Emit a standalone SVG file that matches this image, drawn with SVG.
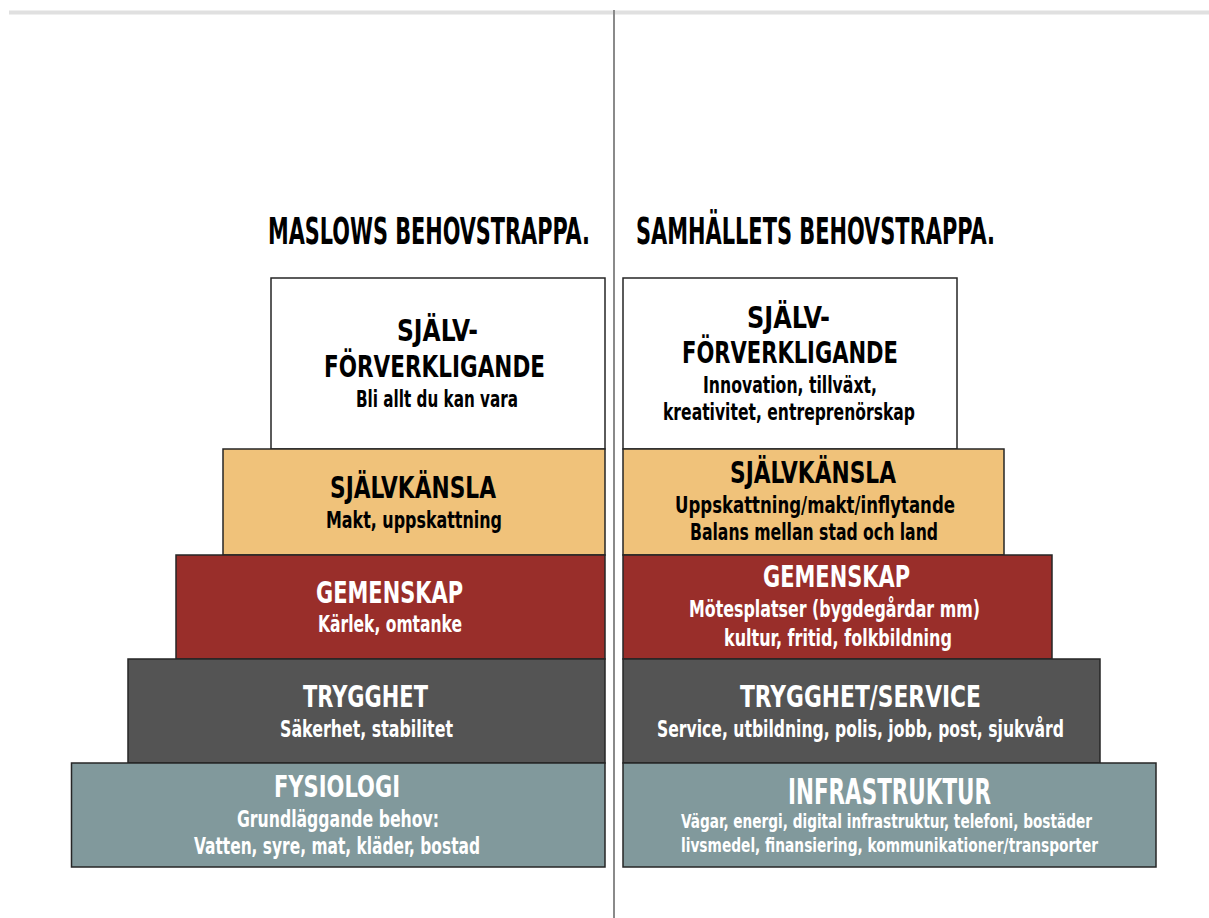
<svg xmlns="http://www.w3.org/2000/svg" width="1209" height="918" viewBox="0 0 1209 918">
<style>
text { font-family: "Liberation Sans Narrow", "DejaVu Sans Condensed", "Roboto Condensed", sans-serif; font-weight: bold; }
.hd { font-size: 38px; fill: #000; }
.tt { font-size: 31px; }
.sb { font-size: 23px; }
.sm { font-size: 20px; }
.dk { fill: #000; }
.lt { fill: #fff; }
.box { stroke: #262626; stroke-width: 1.5; }
.w { fill: #ffffff; }
.o { fill: #f0c27a; }
.r { fill: #992e2a; }
.g { fill: #545454; }
.t { fill: #81999c; }
</style>
<rect x="0" y="0" width="1209" height="918" fill="#ffffff"/>
<line x1="9" y1="12.5" x2="1209" y2="12.5" stroke="#e0e0e0" stroke-width="4"/>
<line x1="614" y1="10" x2="614" y2="918" stroke="#8a8a8a" stroke-width="2"/>

<g id="header-left"><g transform="scale(0.7 1)"><text class="hd" x="382.86" y="244" textLength="460" lengthAdjust="spacingAndGlyphs">MASLOWS BEHOVSTRAPPA.</text></g></g>
<g id="header-right"><g transform="scale(0.7 1)"><text class="hd" x="908.57" y="244" textLength="512.86" lengthAdjust="spacingAndGlyphs">SAMHÄLLETS BEHOVSTRAPPA.</text></g></g>

<g id="left-sjalvforverkligande">
<rect class="box w" x="271" y="278" width="334" height="171"/>
<g transform="scale(0.7 1)">
<text class="tt dk" x="567.14" y="341" textLength="115.71" lengthAdjust="spacingAndGlyphs">SJÄLV-</text>
<text class="tt dk" x="462.86" y="377" textLength="315.71" lengthAdjust="spacingAndGlyphs">FÖRVERKLIGANDE</text>
<text class="sb dk" x="508.57" y="407" textLength="231.43" lengthAdjust="spacingAndGlyphs">Bli allt du kan vara</text>
</g>
</g>
<g id="left-sjalvkansla">
<rect class="box o" x="223" y="449" width="382" height="106"/>
<g transform="scale(0.7 1)">
<text class="tt dk" x="471.43" y="498" textLength="237.14" lengthAdjust="spacingAndGlyphs">SJÄLVKÄNSLA</text>
<text class="sb dk" x="465.71" y="528" textLength="251.43" lengthAdjust="spacingAndGlyphs">Makt, uppskattning</text>
</g>
</g>
<g id="left-gemenskap">
<rect class="box r" x="176" y="555" width="429" height="104"/>
<g transform="scale(0.7 1)">
<text class="tt lt" x="451.43" y="603" textLength="210" lengthAdjust="spacingAndGlyphs">GEMENSKAP</text>
<text class="sb lt" x="454.29" y="632" textLength="205.71" lengthAdjust="spacingAndGlyphs">Kärlek, omtanke</text>
</g>
</g>
<g id="left-trygghet">
<rect class="box g" x="128" y="659" width="477" height="104"/>
<g transform="scale(0.7 1)">
<text class="tt lt" x="432.86" y="707" textLength="178.57" lengthAdjust="spacingAndGlyphs">TRYGGHET</text>
<text class="sb lt" x="400" y="737" textLength="247.14" lengthAdjust="spacingAndGlyphs">Säkerhet, stabilitet</text>
</g>
</g>
<g id="left-fysiologi">
<rect class="box t" x="71.5" y="763" width="533.5" height="104"/>
<g transform="scale(0.7 1)">
<text class="tt lt" x="391.43" y="797" textLength="180" lengthAdjust="spacingAndGlyphs">FYSIOLOGI</text>
<text class="sb lt" x="338.57" y="827" textLength="288.57" lengthAdjust="spacingAndGlyphs">Grundläggande behov:</text>
<text class="sb lt" x="277.14" y="854" textLength="408.57" lengthAdjust="spacingAndGlyphs">Vatten, syre, mat, kläder, bostad</text>
</g>
</g>

<g id="right-sjalvforverkligande">
<rect class="box w" x="623" y="278" width="334" height="171"/>
<g transform="scale(0.7 1)">
<text class="tt dk" x="1067.14" y="328" textLength="118.57" lengthAdjust="spacingAndGlyphs">SJÄLV-</text>
<text class="tt dk" x="974.29" y="363" textLength="308.57" lengthAdjust="spacingAndGlyphs">FÖRVERKLIGANDE</text>
<text class="sb dk" x="1004.29" y="393" textLength="248.57" lengthAdjust="spacingAndGlyphs">Innovation, tillväxt,</text>
<text class="sb dk" x="947.14" y="420" textLength="360" lengthAdjust="spacingAndGlyphs">kreativitet, entreprenörskap</text>
</g>
</g>
<g id="right-sjalvkansla">
<rect class="box o" x="623" y="449" width="381" height="106"/>
<g transform="scale(0.7 1)">
<text class="tt dk" x="1042.86" y="483" textLength="237.14" lengthAdjust="spacingAndGlyphs">SJÄLVKÄNSLA</text>
<text class="sb dk" x="964.29" y="513" textLength="400" lengthAdjust="spacingAndGlyphs">Uppskattning/makt/inflytande</text>
<text class="sb dk" x="985.71" y="540" textLength="354.29" lengthAdjust="spacingAndGlyphs">Balans mellan stad och land</text>
</g>
</g>
<g id="right-gemenskap">
<rect class="box r" x="623" y="555" width="429" height="104"/>
<g transform="scale(0.7 1)">
<text class="tt lt" x="1090" y="587" textLength="210" lengthAdjust="spacingAndGlyphs">GEMENSKAP</text>
<text class="sb lt" x="984.29" y="617" textLength="415.71" lengthAdjust="spacingAndGlyphs">Mötesplatser (bygdegårdar mm)</text>
<text class="sb lt" x="1034.29" y="646" textLength="325.71" lengthAdjust="spacingAndGlyphs">kultur, fritid, folkbildning</text>
</g>
</g>
<g id="right-trygghet-service">
<rect class="box g" x="623" y="659" width="477" height="104"/>
<g transform="scale(0.7 1)">
<text class="tt lt" x="1057.14" y="707" textLength="344.29" lengthAdjust="spacingAndGlyphs">TRYGGHET/SERVICE</text>
<text class="sb lt" x="938.57" y="737" textLength="581.43" lengthAdjust="spacingAndGlyphs">Service, utbildning, polis, jobb, post, sjukvård</text>
</g>
</g>
<g id="right-infrastruktur">
<rect class="box t" x="623" y="763" width="533" height="104"/>
<g transform="scale(0.7 1)">
<text class="tt lt" x="1125.71" y="804" style="font-size:35px" textLength="290" lengthAdjust="spacingAndGlyphs">INFRASTRUKTUR</text>
<text class="sm lt" x="972.86" y="828" textLength="587.14" lengthAdjust="spacingAndGlyphs">Vägar, energi, digital infrastruktur, telefoni, bostäder</text>
<text class="sm lt" x="972.86" y="852" textLength="595.71" lengthAdjust="spacingAndGlyphs">livsmedel, finansiering, kommunikationer/transporter</text>
</g>
</g>
</svg>
